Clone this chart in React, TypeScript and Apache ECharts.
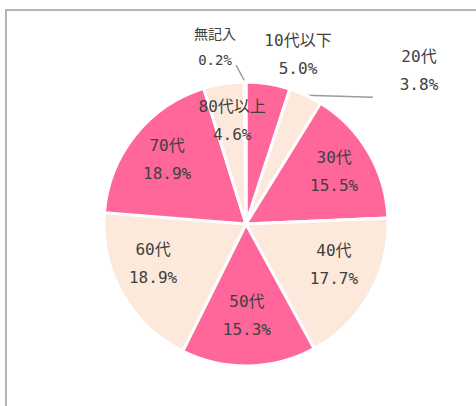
import React, { useEffect, useRef } from "react";
import * as echarts from "echarts";

const categories = ["10代以下", "20代", "30代", "40代", "50代", "60代", "70代", "80代以上", "無記入"];
const values = [5.0, 3.8, 15.5, 17.7, 15.3, 18.9, 18.9, 4.6, 0.2];
const sliceColors = ["#FF6699", "#FDE9DB", "#FF6699", "#FDE9DB", "#FF6699", "#FDE9DB", "#FF6699", "#FDE9DB", "#FF6699"];
const outsideLabels = ["10代以下", "20代", "無記入"];

const FONT = "'DejaVu Sans Mono', 'Noto Sans CJK JP', monospace";
const TEXT = "#404040";

// small nudges of the inside labels (dx, dy)
const labelNudge: Record<string, [number, number]> = {
  "30代": [1, -1],
  "40代": [0, -9],
  "50代": [-1, -9],
  "60代": [-5, -10],
  "70代": [0, -1],
  "80代以上": [2, -4],
};

export default function App() {
  const ref = useRef<HTMLDivElement>(null);
  useEffect(() => {
    if (!ref.current) return;
    const chart = echarts.init(ref.current, undefined, { renderer: "svg" });
    const fmt = (p: any) => `${p.name}\n${Number(p.value).toFixed(1)}%`;
    const center = [246, 224];
    const mainData = categories.map((c, i) => {
      const out = outsideLabels.includes(c);
      return {
        name: c,
        value: values[i],
        itemStyle: { color: sliceColors[i] },
        label: {
          show: out,
          position: "outside",
          fontSize: c === "無記入" ? 14 : 16,
          lineHeight: c === "無記入" ? 26 : 28,
        },
        labelLine: { show: out && c !== "10代以下" },
      };
    });
    const labelData = categories.map((c, i) => ({
      name: c,
      value: values[i],
      label: { show: !outsideLabels.includes(c) },
    }));
    chart.setOption({
      animation: false,
      graphic: [
        {
          type: "rect",
          shape: { x: 6, y: 10, width: 600, height: 600 },
          style: { fill: "none", stroke: "#b4b4b4", lineWidth: 2 },
          silent: true,
        },
      ],
      series: [
        {
          type: "pie",
          center,
          radius: 142,
          startAngle: 90,
          clockwise: true,
          silent: true,
          avoidLabelOverlap: false,
          itemStyle: { borderColor: "#ffffff", borderWidth: 3 },
          label: {
            formatter: fmt,
            color: TEXT,
            fontFamily: FONT,
            fontSize: 16,
            lineHeight: 28,
          },
          labelLine: {
            lineStyle: { color: "#9a9a9a", width: 1.5 },
            length: 0,
            length2: 60,
          },
          labelLayout: (p: any) => {
            const name = categories[p.dataIndex];
            const pts = p.labelLinePoints;
            const start = pts && pts[0] ? pts[0] : null;
            if (name === "20代") {
              const res: any = { x: 419, y: 70, align: "center", verticalAlign: "middle" };
              if (start) res.labelLinePoints = [start, [373, start[1] + 2], [373, start[1] + 2]];
              return res;
            }
            if (name === "10代以下") {
              return { x: 298, y: 54, align: "center", verticalAlign: "middle" };
            }
            if (name === "無記入") {
              const res: any = { x: 215, y: 47, align: "center", verticalAlign: "middle" };
              if (start) res.labelLinePoints = [start, [236, 65], [236, 65]];
              return res;
            }
            return {};
          },
          emphasis: { disabled: true },
          data: mainData,
        },
        {
          type: "pie",
          center,
          radius: 196,
          startAngle: 90,
          clockwise: true,
          silent: true,
          avoidLabelOverlap: false,
          itemStyle: { color: "rgba(0,0,0,0)", borderWidth: 0 },
          label: {
            position: "inside",
            formatter: fmt,
            color: TEXT,
            fontFamily: FONT,
            fontSize: 16,
            lineHeight: 28,
          },
          labelLayout: (p: any) => {
            const n = labelNudge[categories[p.dataIndex]];
            return n ? { dx: n[0], dy: n[1] } : {};
          },
          labelLine: { show: false },
          emphasis: { disabled: true },
          data: labelData,
        },
      ],
    });
    return () => chart.dispose();
  }, []);
  return (
    <div
      ref={ref}
      style={{ position: "absolute", left: 0, top: 0, width: 476, height: 406, background: "#ffffff" }}
    />
  );
}
